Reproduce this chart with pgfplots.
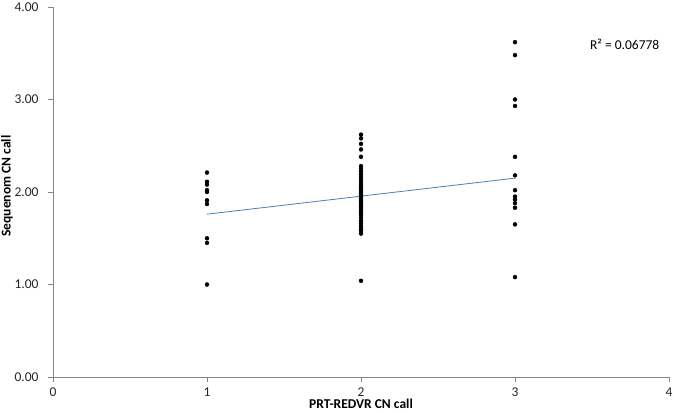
\documentclass[border=0pt]{standalone}
\usepackage{pgfplots}
\pgfplotsset{compat=1.18}
\usepackage{fontspec}
\setmainfont{Carlito}
\definecolor{axgray}{RGB}{134,134,134}
\definecolor{trend}{RGB}{74,126,187}
\begin{document}
\begin{tikzpicture}
\begin{axis}[
  scale only axis,
  width=616pt, height=370pt,
  xmin=0, xmax=4, ymin=0, ymax=4,
  axis x line*=bottom, axis y line*=left,
  axis line style={axgray, line width=0.8pt},
  xtick={0,1,2,3,4}, ytick={0,1,2,3,4},
  tick style={axgray, line width=0.8pt},
  tick align=outside, major tick length=5pt,
  yticklabel style={xshift=-6pt, /pgf/number format/.cd, fixed, fixed zerofill, precision=2},
  /pgf/number format/assume math mode=true,
  ticklabel style={font=\fontsize{13.5}{15}\selectfont, text=black!85},
  xticklabel style={yshift=-2pt},
  xlabel={\bfseries PRT-REDVR CN call},
  ylabel={\bfseries Sequenom CN call},
  label style={font=\fontsize{13.5}{15}\selectfont},
  xlabel style={at={(axis description cs:0.5,0)}, anchor=center, yshift=-27pt},
  ylabel style={at={(axis description cs:0,0.5)}, anchor=center, yshift=46pt, xshift=6pt},
  clip=false,
]
\addplot[only marks, mark=*, mark size=2pt, black] coordinates {
(1,2.21) (1,2.11) (1,2.08) (1,2.02) (1,2.00) (1,1.91) (1,1.87) (1,1.50) (1,1.45) (1,1.00)
(2,2.62) (2,2.58) (2,2.52) (2,2.46) (2,2.38) (2,2.28) (2,2.25) (2,2.22) (2,2.19) (2,2.16)
(2,2.13) (2,2.10) (2,2.07) (2,2.05) (2,2.03) (2,2.01) (2,1.99) (2,1.97) (2,1.95) (2,1.93)
(2,1.91) (2,1.89) (2,1.87) (2,1.85) (2,1.83) (2,1.81) (2,1.79) (2,1.77) (2,1.75) (2,1.72)
(2,1.69) (2,1.66) (2,1.63) (2,1.60) (2,1.58) (2,1.55) (2,1.04)
(3,3.62) (3,3.48) (3,3.00) (3,2.93) (3,2.38) (3,2.18) (3,2.02) (3,1.95) (3,1.92) (3,1.88) (3,1.83) (3,1.65) (3,1.08)
};
\addplot[trend, line width=0.8pt] coordinates {(1,1.76) (3,2.15)};
\node[font=\fontsize{13.5}{15}\selectfont, anchor=east] at (axis cs:3.96,3.6) {R² = 0.06778};
\end{axis}
\pgfresetboundingbox
\path ([shift={(-53pt,-35pt)}]current axis.south west) rectangle ([shift={(5pt,7pt)}]current axis.north east);
\end{tikzpicture}
\end{document}
